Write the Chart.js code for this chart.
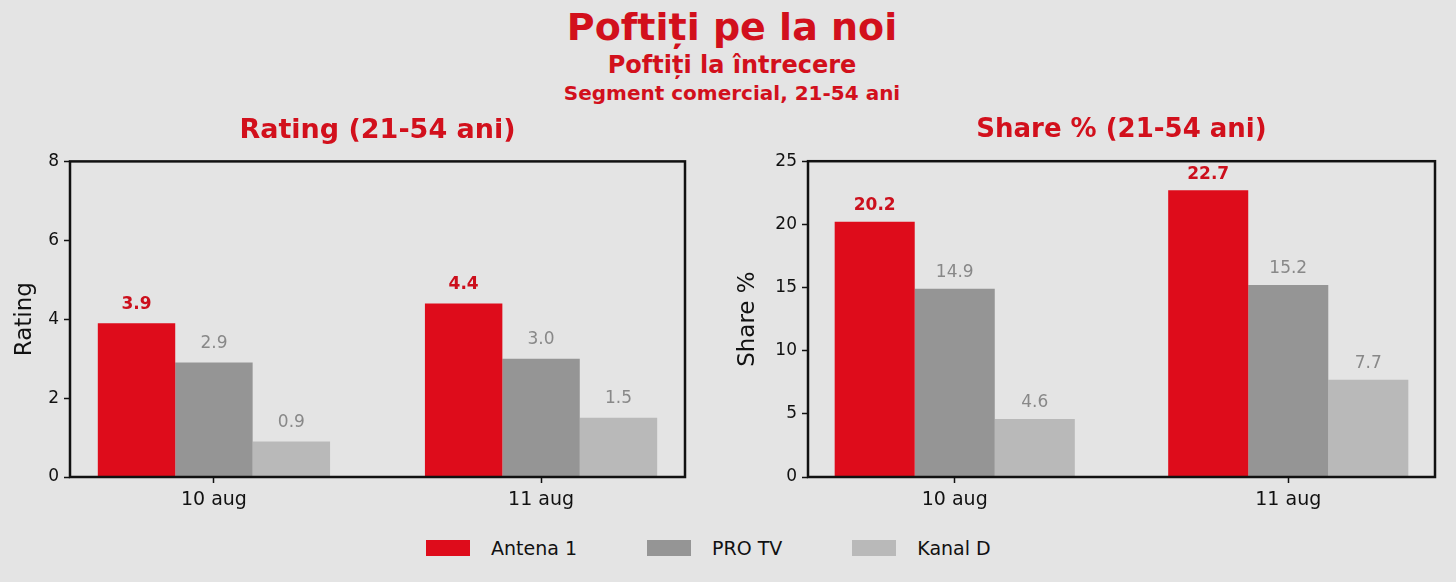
<!DOCTYPE html>
<html>
<head>
<meta charset="utf-8">
<script src="https://cdn.jsdelivr.net/npm/chart.js@4.4.1/dist/chart.umd.min.js"></script>
<style>
html,body{margin:0;padding:0;}
body{width:1456px;height:582px;background:#e4e4e4;position:relative;overflow:hidden;font-family:"DejaVu Sans",sans-serif;}
.t{position:absolute;left:4px;width:1456px;text-align:center;color:#d2101c;font-weight:bold;white-space:nowrap;}
#t1{top:4px;font-size:38px;line-height:46px;}
#t2{top:51px;font-size:24px;line-height:28px;}
#t3{top:81px;font-size:20px;line-height:24px;}
.cw{position:absolute;top:112px;height:410px;}
#w1{left:0;width:700px;}
#w2{left:728px;width:728px;}
#legend{position:absolute;top:536px;left:426px;display:flex;gap:70px;align-items:center;}
.li{display:flex;align-items:center;font-size:19px;color:#111;line-height:24px;}
.lb{width:44px;height:16px;margin-right:21px;}
</style>
</head>
<body>
<div class="t" id="t1">Poftiți pe la noi</div>
<div class="t" id="t2">Poftiți la întrecere</div>
<div class="t" id="t3">Segment comercial, 21-54 ani</div>
<div class="cw" id="w1"><canvas id="c1" width="700" height="410"></canvas></div>
<div class="cw" id="w2"><canvas id="c2" width="728" height="410"></canvas></div>
<div id="legend"></div>
<script>
// ---- data ----
const categories = ["10 aug", "11 aug"];
const seriesNames = ["Antena 1", "PRO TV", "Kanal D"];
const ratingAntena1 = [3.9, 4.4];
const ratingProTV = [2.9, 3.0];
const ratingKanalD = [0.9, 1.5];
const shareAntena1 = [20.2, 22.7];
const shareProTV = [14.9, 15.2];
const shareKanalD = [4.6, 7.7];
const ratingTicksMax = 8;
const shareTicksMax = 25;

// ---- styles ----
const colors = ["#de0c1b", "#959595", "#b9b9b9"];
const labelColors = ["#cc0f1c", "#888888", "#888888"];
const labelBold = [true, false, false];
const RED = "#d2101c";
const INK = "#111111";

Chart.defaults.font.family = "DejaVu Sans";
Chart.defaults.color = INK;

const frame = {
  id: "frame",
  afterDatasetsDraw(chart) {
    const a = chart.chartArea, ctx = chart.ctx;
    ctx.save();
    ctx.strokeStyle = INK;
    ctx.lineWidth = 2.5;
    ctx.strokeRect(a.left, a.top, a.right - a.left, a.bottom - a.top);
    ctx.restore();
  }
};

const valueLabels = {
  id: "valueLabels",
  afterDatasetsDraw(chart, args, opts) {
    const ctx = chart.ctx;
    ctx.save();
    ctx.textAlign = "center";
    ctx.textBaseline = "middle";
    chart.data.datasets.forEach((ds, di) => {
      const meta = chart.getDatasetMeta(di);
      meta.data.forEach((bar, i) => {
        const v = ds.data[i].y;
        ctx.font = (labelBold[di] ? "bold " : "") + "17px 'DejaVu Sans'";
        ctx.fillStyle = labelColors[di];
        ctx.fillText(v.toFixed(1), bar.x, bar.y - opts.offset);
      });
    });
    ctx.restore();
  }
};

function toPoints(arr) { return arr.map((v, i) => ({ x: i, y: v })); }

function makeChart(id, title, yTitle, series, yMax, yStep, cfg) {
  return new Chart(document.getElementById(id), {
    type: "bar",
    data: {
      datasets: series.map((s, i) => ({
        label: seriesNames[i],
        data: toPoints(s),
        backgroundColor: colors[i],
        borderWidth: 0,
        categoryPercentage: cfg.catPct,
        barPercentage: 1
      }))
    },
    options: {
      responsive: false,
      animation: false,
      layout: { padding: { left: 0, right: cfg.padRight, top: 0, bottom: 0 } },
      plugins: {
        legend: { display: false },
        tooltip: { enabled: false },
        title: {
          display: true, text: title, color: RED, fullSize: false,
          font: { size: cfg.titleSize, weight: "bold" },
          padding: { top: 3, bottom: cfg.titlePadBottom }
        },
        valueLabels: { offset: cfg.labelOffset }
      },
      scales: {
        x: {
          type: "linear",
          offset: false,
          min: -0.44, max: 1.44,
          afterBuildTicks(scale) { scale.ticks = categories.map((c, i) => ({ value: i })); },
          afterFit(scale) { scale.height = 45; },
          ticks: {
            callback: (v) => categories[v] !== undefined ? categories[v] : "",
            font: { size: 19 }, color: INK, padding: 6, maxRotation: 0, autoSkip: false
          },
          grid: { offset: false, drawOnChartArea: false, drawTicks: true, tickLength: 6, tickColor: INK, tickWidth: 1.5 },
          border: { display: false }
        },
        y: {
          min: 0, max: yMax,
          afterFit(scale) { scale.width = cfg.yWidth; },
          ticks: { stepSize: yStep, font: { size: 17 }, color: INK, padding: 5 },
          grid: { drawOnChartArea: false, drawTicks: true, tickLength: 6, tickColor: INK, tickWidth: 1.5 },
          border: { display: false },
          title: { display: true, text: yTitle, color: INK, font: { size: 23 }, padding: { top: cfg.yTitlePad, bottom: 0 } }
        }
      }
    },
    plugins: [frame, valueLabels]
  });
}

makeChart("c1", "Rating (21-54 ani)", "Rating",
  [ratingAntena1, ratingProTV, ratingKanalD], ratingTicksMax, 2,
  { catPct: 0.71, padRight: 15, yWidth: 70, yTitlePad: 11, labelOffset: 19, titleSize: 27, titlePadBottom: 14 });
makeChart("c2", "Share % (21-54 ani)", "Share %",
  [shareAntena1, shareProTV, shareKanalD], shareTicksMax, 5,
  { catPct: 0.72, padRight: 21, yWidth: 80, yTitlePad: 6, labelOffset: 16, titleSize: 26, titlePadBottom: 15 });

// legend
const lg = document.getElementById("legend");
seriesNames.forEach((n, i) => {
  const it = document.createElement("div"); it.className = "li";
  const b = document.createElement("div"); b.className = "lb"; b.style.background = colors[i];
  const s = document.createElement("span"); s.textContent = n;
  it.appendChild(b); it.appendChild(s); lg.appendChild(it);
});
</script>
</body>
</html>
